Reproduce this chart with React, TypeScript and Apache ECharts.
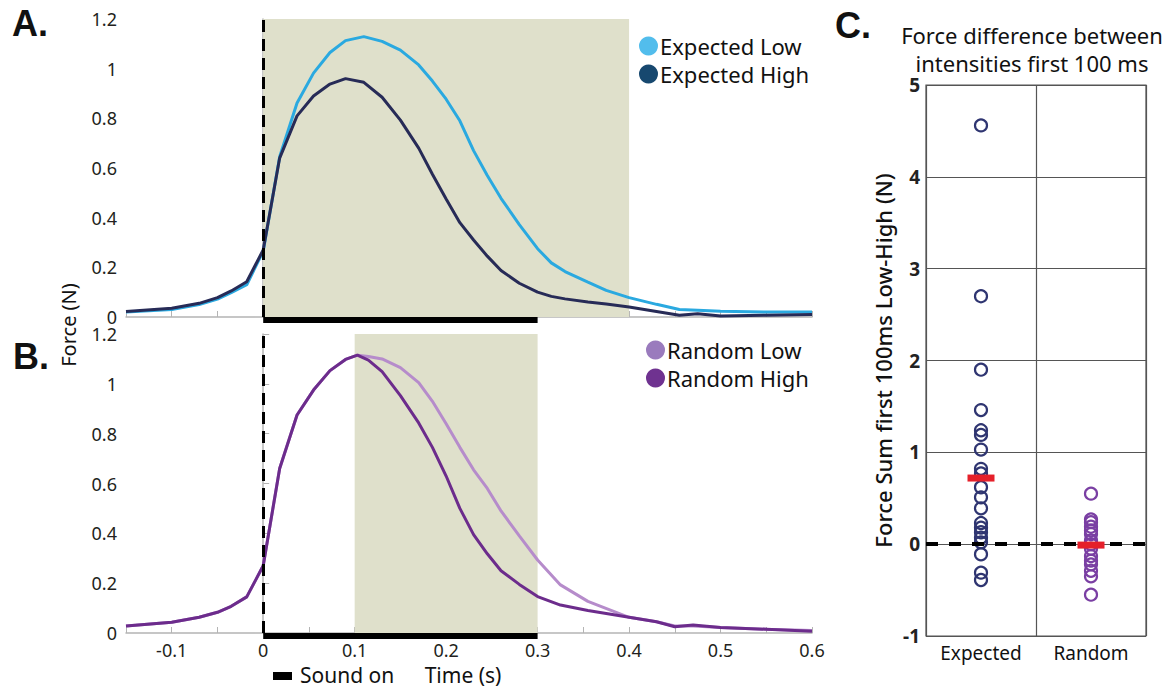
import React, { useEffect, useRef } from "react";
import * as echarts from "echarts";

// ---- Panel A / B data (time in s, force in N) ----
const timeA = [-0.15, -0.1, -0.07, -0.05, -0.035, -0.018, 0, 0.018, 0.037, 0.055, 0.073, 0.09, 0.11, 0.13, 0.15, 0.17, 0.185, 0.2, 0.215, 0.23, 0.245, 0.26, 0.28, 0.3, 0.315, 0.33, 0.355, 0.375, 0.4, 0.43, 0.455, 0.475, 0.5, 0.55, 0.6];
const expectedLow = [0.02, 0.03, 0.05, 0.072, 0.098, 0.13, 0.265, 0.645, 0.862, 0.982, 1.065, 1.113, 1.129, 1.11, 1.075, 1.015, 0.95, 0.877, 0.79, 0.67, 0.57, 0.478, 0.372, 0.275, 0.218, 0.183, 0.14, 0.107, 0.078, 0.051, 0.03, 0.027, 0.023, 0.02, 0.02];
const expectedHigh = [0.022, 0.035, 0.055, 0.078, 0.105, 0.142, 0.27, 0.64, 0.81, 0.89, 0.938, 0.96, 0.945, 0.885, 0.793, 0.68, 0.575, 0.475, 0.38, 0.31, 0.245, 0.187, 0.136, 0.1, 0.083, 0.073, 0.06, 0.052, 0.04, 0.022, 0.007, 0.013, 0.004, 0.007, 0.01];

const timeB = [-0.15, -0.1, -0.07, -0.05, -0.035, -0.018, 0, 0.018, 0.037, 0.055, 0.073, 0.09, 0.103, 0.115, 0.13, 0.15, 0.17, 0.185, 0.2, 0.215, 0.23, 0.245, 0.26, 0.28, 0.3, 0.325, 0.355, 0.4, 0.43, 0.45, 0.47, 0.5, 0.55, 0.6];
const randomLow = [0.028, 0.043, 0.063, 0.083, 0.107, 0.145, 0.27, 0.66, 0.875, 0.975, 1.053, 1.098, 1.115, 1.11, 1.1, 1.065, 1.005, 0.93, 0.84, 0.745, 0.655, 0.58, 0.49, 0.39, 0.293, 0.193, 0.127, 0.063, 0.045, 0.028, 0.028, 0.022, 0.015, 0.01];
const randomHigh = [0.028, 0.043, 0.063, 0.083, 0.107, 0.145, 0.27, 0.66, 0.875, 0.975, 1.053, 1.098, 1.115, 1.095, 1.049, 0.953, 0.843, 0.745, 0.63, 0.5, 0.395, 0.318, 0.25, 0.195, 0.146, 0.112, 0.09, 0.063, 0.045, 0.025, 0.032, 0.022, 0.015, 0.007];

const shadeA = [0, 0.4];
const shadeB = [0.1, 0.3];
const soundOn = [0, 0.3];
const timeRange = [-0.15, 0.6];
const forceRange = [0, 1.2];

// ---- Panel C data ----
const diffCategories = ["Expected", "Random"];
const expectedDiff = [4.56, 2.7, 1.9, 1.46, 1.24, 1.19, 1.03, 0.82, 0.77, 0.62, 0.51, 0.39, 0.23, 0.18, 0.13, 0.07, 0.02, -0.11, -0.31, -0.39];
const randomDiff = [0.55, 0.27, 0.24, 0.19, 0.15, 0.11, 0.04, 0.0, -0.05, -0.13, -0.18, -0.22, -0.29, -0.35, -0.55];
const diffMeans = [0.72, -0.01];
const diffRange = [-1, 5];

const FONT = "Noto Sans";
const AXIS_GRAY = "#b4b4b4";

const pairs = (t: number[], v: number[]) => t.map((x, i) => [x, v[i]]);

const fmt1 = (v: number) => String(Number(v.toFixed(1)));

function timeAxis(gridIndex: number, showLabels: boolean) {
  return {
    type: "value",
    gridIndex,
    min: timeRange[0],
    max: timeRange[1],
    interval: 0.05,
    axisLine: { show: true, lineStyle: { color: AXIS_GRAY, width: 1.5 } },
    axisTick: { show: true, inside: true, length: 6, lineStyle: { color: AXIS_GRAY } },
    splitLine: { show: false },
    axisLabel: {
      show: showLabels,
      margin: 8,
      fontFamily: FONT,
      fontSize: 18,
      lineHeight: 17,
      color: "#231f20",
      showMinLabel: true,
      showMaxLabel: true,
      formatter: (v: number) => {
        const k = Math.round(v * 20);
        if (k % 2 !== 0) return "";
        return fmt1(v);
      },
    },
  };
}

function forceAxis(gridIndex: number) {
  return {
    type: "value",
    gridIndex,
    min: forceRange[0],
    max: forceRange[1],
    interval: 0.2,
    axisLine: { show: true, lineStyle: { color: AXIS_GRAY, width: 1.5 } },
    axisTick: { show: true, inside: true, length: 6, lineStyle: { color: AXIS_GRAY } },
    splitLine: { show: false },
    axisLabel: {
      margin: 9,
      fontFamily: FONT,
      fontSize: 18,
      lineHeight: 15,
      color: "#231f20",
      formatter: (v: number) => fmt1(v),
    },
  };
}

function soundBar(axisIndex: number) {
  return {
    type: "custom",
    xAxisIndex: axisIndex,
    yAxisIndex: axisIndex,
    clip: false,
    silent: true,
    z: 6,
    data: [[soundOn[0], soundOn[1]]],
    renderItem: (_params: any, api: any) => {
      const s = api.coord([api.value(0), 0]);
      const e = api.coord([api.value(1), 0]);
      return {
        type: "rect",
        shape: { x: s[0], y: s[1], width: e[0] - s[0], height: 6 },
        style: { fill: "#000" },
      };
    },
  };
}

const zeroDash = {
  silent: true,
  symbol: ["none", "none"],
  label: { show: false },
  lineStyle: { color: "#000", width: 3, type: [12, 7], opacity: 1 },
  data: [{ xAxis: 0 }],
};

export default function App() {
  const ref = useRef<HTMLDivElement>(null);

  useEffect(() => {
    document.body.style.margin = "0";
    if (!ref.current) return;
    const chart = echarts.init(ref.current, null, { renderer: "svg" });

    const option: any = {
      animation: false,
      backgroundColor: "#ffffff",
      textStyle: { fontFamily: FONT },
      grid: [
        { left: 126, top: 19, width: 686, height: 298, outerBoundsMode: "none" },
        { left: 126, top: 334, width: 686, height: 299, outerBoundsMode: "none" },
        {
          left: 926, top: 85, width: 220, height: 551, outerBoundsMode: "none",
          show: true, borderColor: "#555", borderWidth: 1.2, backgroundColor: "transparent",
        },
      ],
      xAxis: [
        timeAxis(0, false),
        timeAxis(1, true),
        {
          type: "category",
          gridIndex: 2,
          data: diffCategories,
          boundaryGap: true,
          axisLine: { show: false },
          axisTick: { show: false },
          splitLine: { show: true, lineStyle: { color: "#555", width: 1.2 } },
          axisLabel: { margin: 7, fontFamily: FONT, fontSize: 19, color: "#111" },
        },
      ],
      yAxis: [
        forceAxis(0),
        forceAxis(1),
        {
          type: "value",
          gridIndex: 2,
          min: diffRange[0],
          max: diffRange[1],
          interval: 1,
          axisLine: { show: false },
          axisTick: { show: false },
          splitLine: { show: true, lineStyle: { color: "#555", width: 1.2 } },
          axisLabel: { margin: 6, fontFamily: FONT, fontSize: 19, lineHeight: 16, fontWeight: "bold", color: "#222" },
          name: "Force Sum first 100ms Low-High (N)",
          nameLocation: "middle",
          nameGap: 32,
          nameTextStyle: { fontFamily: FONT, fontSize: 22, color: "#111", fontWeight: 500 },
        },
      ],
      legend: [
        {
          orient: "vertical",
          left: 639,
          top: 35,
          icon: "circle",
          itemWidth: 19,
          itemHeight: 19,
          itemGap: 6,
          padding: 0,
          selectedMode: false,
          textStyle: { fontFamily: FONT, fontSize: 22, color: "#111", padding: [0, 0, 0, -3] },
          data: [
            { name: "Expected Low", itemStyle: { color: "#52bdec" } },
            { name: "Expected High", itemStyle: { color: "#17486f" } },
          ],
        },
        {
          orient: "vertical",
          left: 646,
          top: 339,
          icon: "circle",
          itemWidth: 19,
          itemHeight: 19,
          itemGap: 6,
          padding: 0,
          selectedMode: false,
          textStyle: { fontFamily: FONT, fontSize: 22, color: "#111", padding: [0, 0, 0, -3] },
          data: [
            { name: "Random Low", itemStyle: { color: "#9a7bbd" } },
            { name: "Random High", itemStyle: { color: "#6f3290" } },
          ],
        },
      ],
      series: [
        {
          name: "Expected Low",
          type: "line",
          xAxisIndex: 0,
          yAxisIndex: 0,
          data: pairs(timeA, expectedLow),
          showSymbol: false,
          z: 3,
          itemStyle: { color: "#52bdec" },
          lineStyle: { color: "#2aa9e0", width: 3 },
          markArea: {
            silent: true,
            itemStyle: { color: "#dfe0cb", opacity: 1 },
            data: [[{ xAxis: shadeA[0] }, { xAxis: shadeA[1] }]],
          },
        },
        {
          name: "Expected High",
          type: "line",
          xAxisIndex: 0,
          yAxisIndex: 0,
          data: pairs(timeA, expectedHigh),
          showSymbol: false,
          z: 4,
          itemStyle: { color: "#17486f" },
          lineStyle: { color: "#272b57", width: 3 },
          markLine: zeroDash,
        },
        soundBar(0),
        {
          name: "Random Low",
          type: "line",
          xAxisIndex: 1,
          yAxisIndex: 1,
          data: pairs(timeB, randomLow),
          showSymbol: false,
          z: 3,
          itemStyle: { color: "#9a7bbd" },
          lineStyle: { color: "#b68ccb", width: 3 },
          markArea: {
            silent: true,
            itemStyle: { color: "#dfe0cb", opacity: 1 },
            data: [[{ xAxis: shadeB[0] }, { xAxis: shadeB[1] }]],
          },
        },
        {
          name: "Random High",
          type: "line",
          xAxisIndex: 1,
          yAxisIndex: 1,
          data: pairs(timeB, randomHigh),
          showSymbol: false,
          z: 4,
          itemStyle: { color: "#6f3290" },
          lineStyle: { color: "#6c2c8c", width: 3 },
          markLine: zeroDash,
        },
        soundBar(1),
        {
          name: "Expected",
          type: "scatter",
          xAxisIndex: 2,
          yAxisIndex: 2,
          symbol: "circle",
          symbolSize: 12,
          z: 3,
          data: expectedDiff.map((v) => [diffCategories[0], v]),
          itemStyle: { color: "rgba(0,0,0,0)", borderColor: "#2f3571", borderWidth: 2.2, opacity: 1 },
        },
        {
          name: "Random",
          type: "scatter",
          xAxisIndex: 2,
          yAxisIndex: 2,
          symbol: "circle",
          symbolSize: 12,
          z: 3,
          data: randomDiff.map((v) => [diffCategories[1], v]),
          itemStyle: { color: "rgba(0,0,0,0)", borderColor: "#7a3fa3", borderWidth: 2.2, opacity: 1 },
          markLine: {
            silent: true,
            symbol: ["none", "none"],
            label: { show: false },
            lineStyle: { color: "#000", width: 4, type: [12, 11], opacity: 1 },
            data: [{ yAxis: 0 }],
          },
        },
        {
          name: "Mean",
          type: "scatter",
          xAxisIndex: 2,
          yAxisIndex: 2,
          symbol: "rect",
          symbolSize: [27, 7],
          z: 6,
          data: diffMeans.map((v, i) => [diffCategories[i], v]),
          itemStyle: { color: "#e5202a", opacity: 1 },
        },
      ],
      graphic: [
        { type: "text", left: 12, top: 5, style: { text: "A.", font: "bold 36px 'Liberation Sans'", fill: "#111" } },
        { type: "text", left: 13, top: 338, style: { text: "B.", font: "bold 36px 'Liberation Sans'", fill: "#111" } },
        { type: "text", left: 835, top: 7, style: { text: "C.", font: "bold 36px 'Liberation Sans'", fill: "#111" } },
        {
          type: "text", x: 1032, y: 35,
          style: { text: "Force difference between", font: `22px '${FONT}'`, fill: "#111", align: "center", verticalAlign: "middle", lineHeight: 22 },
        },
        {
          type: "text", x: 1032, y: 63,
          style: { text: "intensities first 100 ms", font: `22px '${FONT}'`, fill: "#111", align: "center", verticalAlign: "middle", lineHeight: 22 },
        },
        {
          type: "text", x: 68, y: 325, rotation: Math.PI / 2,
          style: { text: "Force (N)", font: `20px '${FONT}'`, fill: "#111", align: "center", verticalAlign: "middle", lineHeight: 20 },
        },
        {
          type: "text", x: 463, y: 675,
          style: { text: "Time (s)", font: `21px '${FONT}'`, fill: "#111", align: "center", verticalAlign: "middle", lineHeight: 19 },
        },
        { type: "rect", shape: { x: 273, y: 672, width: 19, height: 8 }, style: { fill: "#000" } },
        {
          type: "text", x: 300, y: 675,
          style: { text: "Sound on", font: `21px '${FONT}'`, fill: "#111", align: "left", verticalAlign: "middle", lineHeight: 19 },
        },
      ],
    };

    chart.setOption(option);
    return () => chart.dispose();
  }, []);

  return <div ref={ref} style={{ width: 1170, height: 688 }} />;
}
